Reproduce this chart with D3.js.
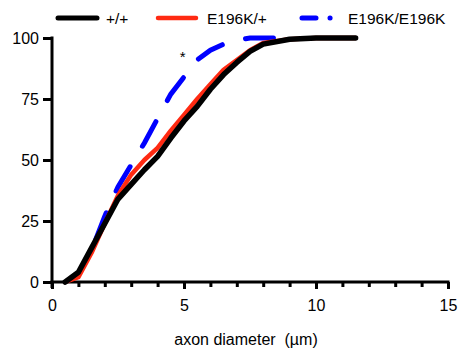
<!DOCTYPE html>
<html>
<head>
<meta charset="utf-8">
<script src="https://cdn.jsdelivr.net/npm/d3@7"></script>
<style>
  body { margin: 0; background: #fff; }
  text { font-family: "Liberation Sans", Arial, Helvetica, sans-serif; }
</style>
</head>
<body>
<svg id="chart"></svg>
<script>
// cumulative frequency (%) vs axon diameter (um)
let diameters = [0.5, 1, 1.5, 2, 2.5, 3, 3.5, 4, 4.5, 5, 5.5, 6, 6.5, 7, 7.5, 8, 9, 10, 11.5];
let wildType = [0, 4, 14, 24, 34, 40, 46, 51.5, 59, 66, 72, 79, 85, 90, 94.5, 97.5, 99.5, 100, 100];
let hetero = [0, 2, 12, 24, 35.5, 44, 50, 55, 62, 68.5, 75, 81, 87, 91, 95, 98, 99.5, 100, 100];
let homoX = [0.5, 1, 1.5, 2, 2.5, 3, 3.5, 4, 4.5, 5, 5.5, 6, 6.5, 7, 7.5, 8, 9];
let homo = [0, 3, 13, 27, 39, 48, 57, 67, 77, 84, 91, 95, 97.5, 99, 100, 100, 100];

let seriesNames = ["+/+", "E196K/+", "E196K/E196K"];
let xTicks = [0, 5, 10, 15];
let yTicks = [0, 25, 50, 75, 100];

let W = 459, H = 351;
let margin = {top: 38, right: 11, bottom: 69, left: 52},
    width = W - margin.left - margin.right,
    height = H - margin.top - margin.bottom;

let svg = d3.select("#chart")
    .attr("width", W)
    .attr("height", H);

let g = svg.append("g")
    .attr("transform", "translate(" + margin.left + "," + margin.top + ")");

let x = d3.scaleLinear().domain([0, 15]).range([0, width]);
let y = d3.scaleLinear().domain([0, 100]).range([height, 0]);

// minor x ticks every 1 unit
let xMinor = g.append("g")
    .attr("transform", "translate(0," + height + ")")
    .call(d3.axisBottom(x).tickValues(d3.range(0, 16)).tickSize(5).tickSizeOuter(0).tickFormat(""));
xMinor.select(".domain").remove();
xMinor.selectAll("line").attr("stroke-width", 3);

let xAxis = g.append("g")
    .attr("transform", "translate(0," + height + ")")
    .call(d3.axisBottom(x).tickValues(xTicks).tickSize(7).tickSizeOuter(0).tickPadding(11));
xAxis.select(".domain").attr("stroke-width", 3).attr("d", "M-1.5,0H" + (width + 1.5));
xAxis.selectAll("line").attr("stroke-width", 3);
xAxis.selectAll("text").attr("font-size", 16).attr("fill", "#000")
    .attr("font-family", "Liberation Sans, Arial, sans-serif");

let yAxis = g.append("g")
    .call(d3.axisLeft(y).tickValues(yTicks).tickSize(9).tickSizeOuter(0).tickPadding(4));
yAxis.select(".domain").attr("stroke-width", 3).attr("d", "M0,-1.5V" + (height + 6));
yAxis.selectAll("line").attr("stroke-width", 3);
yAxis.selectAll("text").attr("font-size", 16).attr("fill", "#000")
    .attr("font-family", "Liberation Sans, Arial, sans-serif");

g.append("text")
    .attr("x", 246 - margin.left)
    .attr("y", height + 63)
    .attr("text-anchor", "middle")
    .attr("font-size", 16)
    .style("white-space", "pre")
    .text("axon diameter  (\u00b5m)");

let line = d3.line()
    .x(d => x(d[0]))
    .y(d => y(d[1]));

// draw blue first, black on top
g.append("path")
    .datum(d3.zip(homoX, homo))
    .attr("d", line)
    .attr("fill", "none")
    .attr("stroke", "#0000ff")
    .attr("stroke-width", 5)
    .attr("stroke-linecap", "round")
    .attr("stroke-dasharray", "28,24")
    .attr("stroke-dashoffset", -3);

g.append("path")
    .datum(d3.zip(diameters, hetero))
    .attr("d", line)
    .attr("fill", "none")
    .attr("stroke", "#ff2a12")
    .attr("stroke-width", 4.5)
    .attr("stroke-linejoin", "round")
    .attr("stroke-linecap", "round");

g.append("path")
    .datum(d3.zip(diameters, wildType))
    .attr("d", line)
    .attr("fill", "none")
    .attr("stroke", "#000")
    .attr("stroke-width", 5.5)
    .attr("stroke-linejoin", "round")
    .attr("stroke-linecap", "round");

// significance mark
g.append("text")
    .attr("x", x(4.95))
    .attr("y", y(90))
    .attr("text-anchor", "middle")
    .attr("font-size", 15)
    .text("*");

// legend
let legend = [
    {name: seriesNames[0], x0: 58, x1: 97, tx: 106, color: "#000", w: 5, dash: null},
    {name: seriesNames[1], x0: 158, x1: 196, tx: 207, color: "#ff2a12", w: 4.5, dash: null},
    {name: seriesNames[2], x0: 302, x1: 337, tx: 348, color: "#0000ff", w: 5, dash: "14,14,0.1,20"}
];
legend.forEach(function (d) {
    svg.append("line")
        .attr("x1", d.x0).attr("x2", d.x1)
        .attr("y1", 18).attr("y2", 18)
        .attr("stroke", d.color)
        .attr("stroke-width", d.w)
        .attr("stroke-linecap", "round")
        .attr("stroke-dasharray", d.dash);
    svg.append("text")
        .attr("x", d.tx)
        .attr("y", 24)
        .attr("font-size", 15.5)
        .text(d.name);
});
</script>
</body>
</html>
